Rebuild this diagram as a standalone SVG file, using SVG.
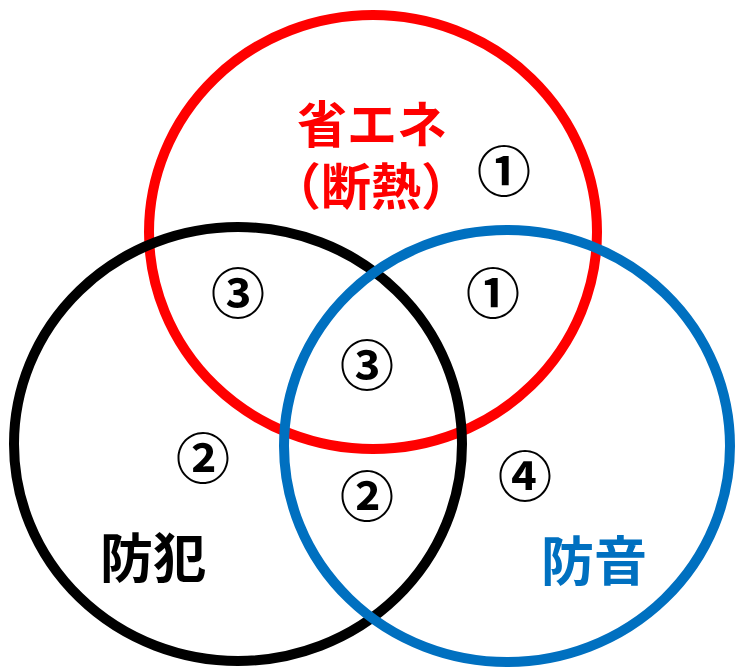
<svg xmlns="http://www.w3.org/2000/svg" width="735" height="667" viewBox="0 0 735 667">
<style>
.ring{fill:none;stroke-width:10}
.lbl{font-family:"Noto Sans CJK JP","Noto Sans CJK SC",sans-serif;font-weight:700;text-anchor:middle}
.num{font-family:"Noto Sans CJK JP","Noto Sans CJK SC",sans-serif;font-weight:700;font-size:54px;text-anchor:middle;fill:#000}
</style>
<rect width="735" height="667" fill="#fff"/>
<g id="energy">
<ellipse class="ring" cx="373" cy="232" rx="224" ry="217" stroke="#ff0000"/>
<text class="lbl" font-size="50" fill="#ff0000"><tspan x="372" y="143">省エネ</tspan><tspan x="371" y="205">（断熱）</tspan></text>
</g>
<g id="crime">
<ellipse class="ring" cx="238" cy="444" rx="224" ry="217" stroke="#000"/>
<text class="lbl" x="153" y="578" font-size="53" fill="#000">防犯</text>
</g>
<g id="sound">
<ellipse class="ring" cx="507" cy="446" rx="223" ry="216" stroke="#0070c0"/>
<text class="lbl" x="594" y="581" font-size="53" fill="#0070c0">防音</text>
</g>
<g id="regions">
<text class="num" x="504" y="192">①</text>
<text class="num" x="493" y="314">①</text>
<text class="num" x="238" y="314">③</text>
<text class="num" x="367" y="386">③</text>
<text class="num" x="203" y="479">②</text>
<text class="num" x="367" y="517">②</text>
<text class="num" x="525" y="497">④</text>
</g>
</svg>
